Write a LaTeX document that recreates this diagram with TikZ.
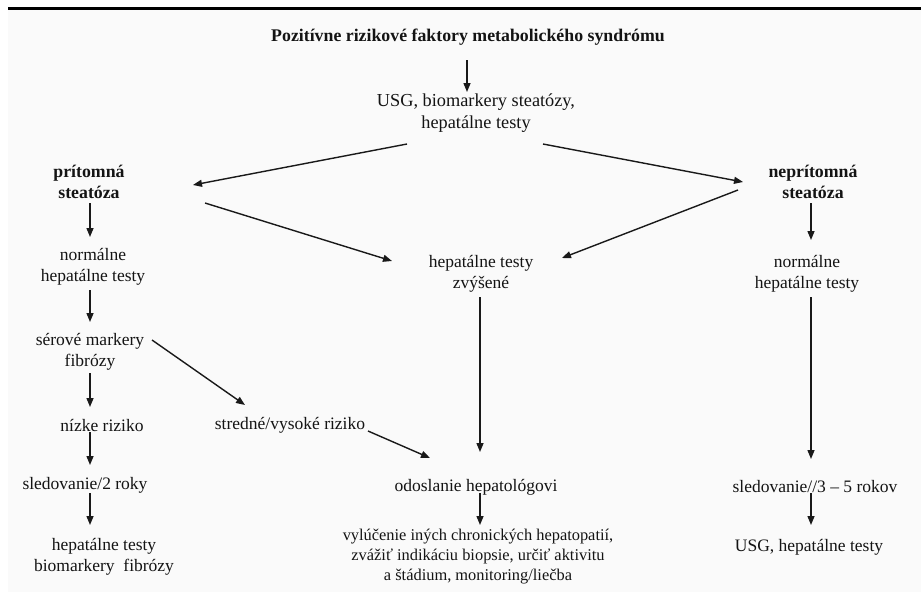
\documentclass[tikz,border=0pt]{standalone}
\usepackage{fontspec}
\setmainfont{Liberation Serif}
\usetikzlibrary{arrows.meta}
\begin{document}
\begin{tikzpicture}[x=1pt,y=-1pt,
  txt/.style={font=\fontsize{17.5}{21}\selectfont, align=center, inner sep=0pt, text=black!92},
  bld/.style={txt, font=\fontsize{17.8}{21}\selectfont\bfseries},
  arr/.style={-{Triangle[length=9pt,width=7pt]}, line width=1.4pt, draw=black!90}]
\useasboundingbox (0,0) rectangle (921,595);
\fill[black!2] (8,9) rectangle (921,592);
\draw[line width=2.4pt] (8,8.5) -- (921,8.5);

% nodes
\node[bld] (title) at (468,37) {Pozitívne rizikové faktory metabolického syndrómu};
\node[txt, font=\fontsize{18.3}{22}\selectfont] (usg) at (476,113) {USG, biomarkery steatózy,\\hepatálne testy};
\node[bld] (pri) at (89,182) {prítomná\\steatóza};
\node[bld] (nep) at (813,182) {neprítomná\\steatóza};
\node[txt] (nl) at (93,267) {normálne\\hepatálne testy};
\node[txt] (zv) at (481,274) {hepatálne testy\\zvýšené};
\node[txt] (nr) at (807,274) {normálne\\hepatálne testy};
\node[txt] (ser) at (90,352) {sérové markery\\fibrózy};
\node[txt] (niz) at (102,425) {nízke riziko};
\node[txt] (str) at (290,425) {stredné/vysoké riziko};
\node[txt] (sl2) at (85,485) {sledovanie/2 roky};
\node[txt] (od) at (476,487) {odoslanie hepatológovi};
\node[txt] (sl5) at (815,487) {sledovanie//3 – 5 rokov};
\node[txt] (hb) at (104,557) {hepatálne testy\\biomarkery~~fibrózy};
\node[txt, font=\fontsize{16.4}{20}\selectfont] (vyl) at (478,557) {vylúčenie iných chronických hepatopatií,\\zvážiť indikáciu biopsie, určiť aktivitu\\a štádium, monitoring/liečba};
\node[txt] (usgb) at (809,547) {USG, hepatálne testy};

% connector end points
\coordinate (title-s) at (467,60);   \coordinate (usg-n) at (467,92);
\coordinate (usg-sl) at (407,144);   \coordinate (pri-e) at (193,185);
\coordinate (usg-sr) at (543,144);   \coordinate (nep-w) at (743,182);
\coordinate (pri-s) at (90,203);     \coordinate (nl-n) at (90,237);
\coordinate (pri-se) at (205,203);   \coordinate (zv-w) at (392,261);
\coordinate (nep-sw) at (738,190);   \coordinate (zv-e) at (562,258);
\coordinate (nep-s) at (811,203);    \coordinate (nr-n) at (811,240);
\coordinate (nl-s) at (90,290);      \coordinate (ser-n) at (90,322);
\coordinate (ser-e) at (152,340);    \coordinate (str-n) at (245,405);
\coordinate (ser-s) at (90,373);     \coordinate (niz-n) at (90,407);
\coordinate (niz-s) at (90,432);     \coordinate (sl2-n) at (90,465);
\coordinate (str-e) at (368,431);    \coordinate (od-w) at (430,458);
\coordinate (zv-s) at (480,297);     \coordinate (od-n) at (480,452);
\coordinate (nr-s) at (811,297);     \coordinate (sl5-n) at (811,459);
\coordinate (sl2-s) at (90,493);     \coordinate (hb-n) at (90,525);
\coordinate (od-s) at (480,493);     \coordinate (vyl-n) at (480,525);
\coordinate (sl5-s) at (811,493);    \coordinate (usgb-n) at (811,525);

% connectors
\draw[arr] (title-s) -- (usg-n);
\draw[arr] (usg-sl) -- (pri-e);
\draw[arr] (usg-sr) -- (nep-w);
\draw[arr] (pri-s) -- (nl-n);
\draw[arr] (pri-se) -- (zv-w);
\draw[arr] (nep-sw) -- (zv-e);
\draw[arr] (nep-s) -- (nr-n);
\draw[arr] (nl-s) -- (ser-n);
\draw[arr] (ser-e) -- (str-n);
\draw[arr] (ser-s) -- (niz-n);
\draw[arr] (niz-s) -- (sl2-n);
\draw[arr] (str-e) -- (od-w);
\draw[arr] (zv-s) -- (od-n);
\draw[arr] (nr-s) -- (sl5-n);
\draw[arr] (sl2-s) -- (hb-n);
\draw[arr] (od-s) -- (vyl-n);
\draw[arr] (sl5-s) -- (usgb-n);
\end{tikzpicture}
\end{document}
